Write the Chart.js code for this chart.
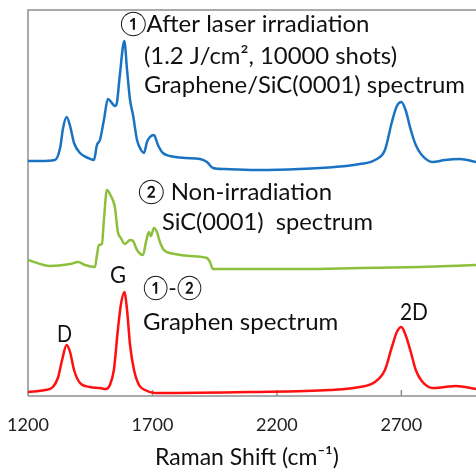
<!DOCTYPE html>
<html><head><meta charset="utf-8">
<script src="https://cdn.jsdelivr.net/npm/chart.js@4/dist/chart.umd.min.js"></script>
<style>html,body{margin:0;padding:0;background:#fff;overflow:hidden}#wrap{width:476px;height:470px;position:relative}</style>
</head><body><div id="wrap"><canvas id="c"></canvas></div>
<script>
// Tick labels of the Raman shift axis (cm-1)
const tickLabels = [1200, 1700, 2200, 2700];
const axisTitle = 'Raman Shift (cm⁻¹)';

// ① After laser irradiation: Graphene/SiC(0001) (stacked, arbitrary units)
const irradiatedShift = [1200,1248,1308,1329,1341,1355,1369,1385,1409,1441,1465,1477,1489,1505,1521,1537,1549,1557,1569,1587,1598,1610,1622,1638,1654,1666,1678,1690,1706,1722,1742,1770,1831,1891,1919,1943,1991,2132,2292,2433,2533,2594,2634,2662,2682,2700,2717,2738,2758,2782,2826,2875,2935,3000];
const irradiatedIntensity = [235,235,236,248,268,279,270,253,243,238,236,251,256,276,297,293,290,293,321,355,326,296,281,256,246,243,254,259,261,251,243,240,238,237,234,228,227,226,227,229,232,236,246,274,290,294,286,266,251,241,234,236,237,234];

// ② Non-irradiation SiC(0001)
const pristineShift = [1200,1288,1369,1401,1429,1469,1477,1485,1497,1505,1517,1533,1549,1561,1573,1589,1610,1622,1638,1662,1674,1686,1694,1706,1718,1730,1746,1790,1851,1919,1931,1943,2051,2292,2533,2774,3000];
const pristineIntensity = [136,130,132,134,131,129,141,151,152,176,206,200,189,164,158,152,156,155,146,141,154,164,160,168,164,154,146,142,140,138,134,127,127,127,128,129,131];

// ①-② Graphene spectrum
const grapheneShift = [1200,1268,1300,1320,1337,1355,1369,1385,1409,1449,1489,1513,1529,1545,1561,1573,1587,1598,1610,1626,1646,1670,1710,2092,2413,2533,2594,2634,2662,2682,2700,2717,2738,2758,2782,2826,2875,2919,3000];
const grapheneIntensity = [4,6,9,18,36,51,44,26,13,9,8,7,11,26,66,91,104,86,51,26,11,6,3,4,6,9,14,26,49,64,69,61,44,26,15,8,9,10,7];

const toPoints = (xs, ys) => xs.map((x, i) => ({x: x, y: ys[i]}));

const FONT = "Lato, 'Noto Sans CJK JP', sans-serif";

const framePlugin = {
  id: 'frame',
  beforeDatasetsDraw(chart) {
    const {ctx, chartArea: a, scales: {x}} = chart;
    ctx.save();
    ctx.strokeStyle = '#8e8e8e';
    ctx.lineWidth = 1.5;
    ctx.beginPath();
    ctx.moveTo(a.left, a.bottom); ctx.lineTo(a.left, a.top); ctx.lineTo(a.right, a.top);
    ctx.moveTo(a.left, a.bottom); ctx.lineTo(a.right, a.bottom);
    tickLabels.forEach(v => { const px = x.getPixelForValue(v); ctx.moveTo(px, a.bottom); ctx.lineTo(px, a.bottom - 6); });
    ctx.stroke();
    // tick labels placed through the x scale
    ctx.fillStyle = '#222';
    ctx.font = '18px ' + FONT;
    ctx.textAlign = 'center';
    ctx.textBaseline = 'middle';
    tickLabels.forEach(v => ctx.fillText(String(v), x.getPixelForValue(v), a.bottom + 29));
    // axis title
    ctx.fillStyle = '#111';
    ctx.font = '23px ' + FONT;
    ctx.textBaseline = 'alphabetic';
    ctx.fillText(axisTitle, 247, a.bottom + 69);
    ctx.restore();
  }
};

const notes = [
  {t: '①After laser irradiation', x: 120, y: 32, w: 252},
  {t: '(1.2 J/cm², 10000 shots)', x: 144, y: 64, w: 253},
  {t: 'Graphene/SiC(0001) spectrum', x: 144, y: 93, w: 321},
  {t: '② Non-irradiation', x: 138, y: 200, w: 194},
  {t: 'SiC(0001)  spectrum', x: 162, y: 230, w: 211},
  {t: 'G', x: 110, y: 283, w: 16},
  {t: '①-②', x: 143, y: 296, w: 59},
  {t: 'Graphen spectrum', x: 143, y: 330, w: 197},
  {t: 'D', x: 57, y: 342, w: 15},
  {t: '2D', x: 400, y: 320, w: 28}
];

const notePlugin = {
  id: 'notes',
  afterDatasetsDraw(chart) {
    const ctx = chart.ctx;
    ctx.save();
    ctx.fillStyle = '#111';
    ctx.font = '24px ' + FONT;
    ctx.textBaseline = 'alphabetic';
    ctx.textAlign = 'left';
    notes.forEach(n => ctx.fillText(n.t, n.x, n.y, n.w));
    ctx.restore();
  }
};

new Chart(document.getElementById('c'), {
  type: 'line',
  data: {
    datasets: [
      {label: 'irradiated', data: toPoints(irradiatedShift, irradiatedIntensity), borderColor: '#1a73c2'},
      {label: 'pristine', data: toPoints(pristineShift, pristineIntensity), borderColor: '#8cc03c'},
      {label: 'graphene', data: toPoints(grapheneShift, grapheneIntensity), borderColor: '#ff1010'}
    ]
  },
  options: {
    responsive: true,
    maintainAspectRatio: false,
    animation: false,
    devicePixelRatio: 1,
    layout: {padding: {left: 28, right: 0, top: 10, bottom: 0}},
    elements: {
      line: {borderWidth: 2.5, cubicInterpolationMode: 'monotone', fill: false},
      point: {radius: 0, hoverRadius: 0}
    },
    plugins: {legend: {display: false}, tooltip: {enabled: false}},
    scales: {
      x: {
        type: 'linear', min: 1200, max: 3000,
        afterBuildTicks: s => { s.ticks = tickLabels.map(v => ({value: v})); },
        afterFit: s => { s.paddingLeft = 0; s.paddingRight = 0; s.height = 74; },
        grid: {display: false, drawTicks: false},
        border: {display: false},
        ticks: {display: false},
        title: {display: false}
      },
      y: {display: false, min: 0, max: 386}
    }
  },
  plugins: [framePlugin, notePlugin]
});
</script>
</body></html>
